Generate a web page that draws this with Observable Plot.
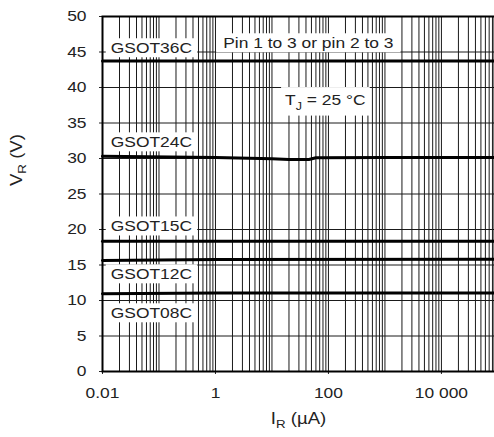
<!DOCTYPE html>
<html><head><meta charset="utf-8">
<script src="https://cdn.jsdelivr.net/npm/d3@7"></script>
<script src="https://cdn.jsdelivr.net/npm/@observablehq/plot@0.6"></script>
<style>body{margin:0;background:#fff}</style>
</head><body><div id="chart"></div>
<script>
// Axis ticks
const xTicks = [0.01, 1, 100, 10000];
const xTickLabels = ["0.01", "1", "100", "10 000"];
const yTicks = [0, 5, 10, 15, 20, 25, 30, 35, 40, 45, 50];
const xDomain = [0.01, 87000];
const yDomain = [0, 50];

// Series (I_R in µA, V_R in V)
const iR36 = [0.01, 87000];
const vR36 = [43.75, 43.75];
const iR24 = [0.01, 1, 10, 20, 45, 60, 1000, 87000];
const vR24 = [30.3, 30.15, 29.95, 29.85, 29.85, 30.1, 30.15, 30.15];
const iR15 = [0.01, 87000];
const vR15 = [18.35, 18.35];
const iR12 = [0.01, 1, 87000];
const vR12 = [15.65, 15.78, 15.8];
const iR08 = [0.01, 1, 87000];
const vR08 = [10.95, 11.05, 11.05];

// Labels
const seriesNames = ["GSOT36C", "GSOT24C", "GSOT15C", "GSOT12C", "GSOT08C"];
const seriesLabelI = [0.014, 0.014, 0.014, 0.014, 0.014];
const seriesLabelV = [45.5, 32.25, 20.4, 13.66, 8.17];
const noteText = ["Pin 1 to 3 or pin 2 to 3", "T_J = 25 °C"];
const noteI = [44, 88];
const noteV = [46.2, 38.2];
const xLabel = "I_R (µA)";
const yLabel = "V_R (V)";

const lineData = [
  ...iR36.map((x, i) => ({s: "36", x, y: vR36[i]})),
  ...iR24.map((x, i) => ({s: "24", x, y: vR24[i]})),
  ...iR15.map((x, i) => ({s: "15", x, y: vR15[i]})),
  ...iR12.map((x, i) => ({s: "12", x, y: vR12[i]})),
  ...iR08.map((x, i) => ({s: "08", x, y: vR08[i]}))
];

// log grid: 1..9 per decade
const gridX = [];
for (let e = -2; e <= 4; e++) for (let k = 1; k <= 9; k++) {
  const v = k * Math.pow(10, e);
  if (v > xDomain[0] && v < xDomain[1]) gridX.push(v);
}

const FONT = "Liberation Sans, Arial, sans-serif";

const plot = Plot.plot({
  width: 494,
  height: 437,
  marginLeft: 102,
  marginRight: 0,
  marginTop: 16,
  marginBottom: 66,
  style: {fontFamily: FONT, fontSize: "15px", color: "#222", background: "#fff"},
  x: {type: "log", domain: xDomain},
  y: {domain: yDomain},
  marks: [
    Plot.ruleX(gridX, {stroke: "#1a1a1a", strokeWidth: 1}),
    Plot.ruleY(yTicks, {stroke: "#1a1a1a", strokeWidth: 1}),
    Plot.axisX(xTicks, {tickFormat: (d) => xTickLabels[xTicks.indexOf(d)], tickSize: 3, tickPadding: 13, label: null, fontSize: 15}),
    Plot.axisY(yTicks, {tickSize: 3, tickPadding: 13, label: null, fontSize: 15}),
    Plot.line(lineData, {x: "x", y: "y", z: "s", stroke: "#000", strokeWidth: 3, curve: "linear"}),
    Plot.frame({stroke: "#000", strokeWidth: 2}),
    Plot.text(seriesNames, {x: (d, i) => seriesLabelI[i], y: (d, i) => seriesLabelV[i], text: (d) => d, textAnchor: "start", fontSize: 15, fill: "#222"}),
    Plot.text(noteText, {x: (d, i) => noteI[i], y: (d, i) => noteV[i], text: (d) => d, textAnchor: "middle", fontSize: 15, fill: "#222"}),
    Plot.text([xLabel], {frameAnchor: "bottom", dy: 52, text: (d) => d, fontSize: 16, fill: "#222"}),
    Plot.text([yLabel], {frameAnchor: "left", dx: -86, dy: -8, rotate: -90, text: (d) => d, fontSize: 16, fill: "#222"})
  ]
});
document.getElementById("chart").appendChild(plot);

const svg = d3.select(plot);
const boxPad = new Map([
  ...seriesNames.map((n) => [n, [5, 1]]),
  [noteText[0], [7, 1]],
  [noteText[1], [4, 4]]
]);
const boxedEls = [];
svg.selectAll("text").each(function () {
  if (boxPad.has(this.textContent)) boxedEls.push([this, boxPad.get(this.textContent)]);
});
// subscripts
svg.selectAll("text").each(function () {
  const t = this.textContent;
  if (t.includes("_")) {
    const idx = t.indexOf("_");
    const fs = parseFloat(getComputedStyle(this).fontSize) || 15;
    this.textContent = "";
    const sel = d3.select(this);
    sel.append("tspan").text(t.slice(0, idx));
    sel.append("tspan").attr("dy", fs * 0.3).attr("font-size", fs * 0.72).text(t[idx + 1]);
    sel.append("tspan").attr("dy", -fs * 0.3).text(t.slice(idx + 2));
  }
});
// horizontal stretch to mimic reference glyph widths
svg.selectAll("text").each(function () {
  const len = this.getComputedTextLength();
  this.setAttribute("textLength", (len * 1.16).toFixed(2));
  this.setAttribute("lengthAdjust", "spacingAndGlyphs");
});
// white boxes behind labels
boxedEls.forEach(function ([el, [px, py]]) {
  const b = el.getBBox();
  const tr = el.getAttribute("transform");
  const r = document.createElementNS("http://www.w3.org/2000/svg", "rect");
  r.setAttribute("x", b.x - px);
  r.setAttribute("y", b.y - py);
  r.setAttribute("width", b.width + 2 * px);
  r.setAttribute("height", b.height + 2 * py);
  r.setAttribute("fill", "#fff");
  if (tr) r.setAttribute("transform", tr);
  el.parentNode.insertBefore(r, el);
});
</script>
</body></html>
